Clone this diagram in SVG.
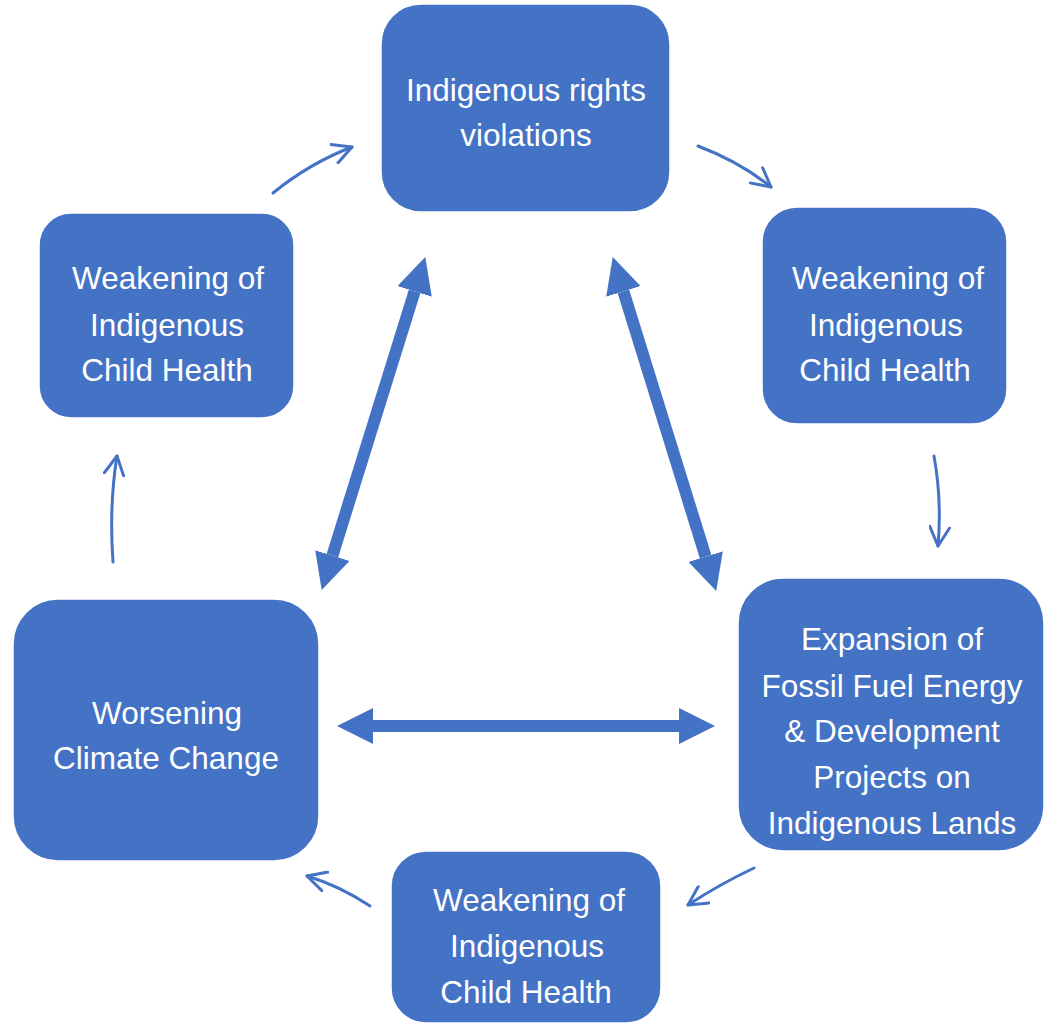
<svg xmlns="http://www.w3.org/2000/svg" width="1047" height="1025" viewBox="0 0 1047 1025">
<style>
.box{fill:#4472C4;stroke:#ffffff;stroke-width:1.5}
.t{fill:#ffffff;font-family:"Liberation Sans",Arial,sans-serif;font-size:31.5px;text-anchor:middle}
.thin{fill:none;stroke:#4472C4;stroke-width:3;stroke-linecap:round;marker-end:url(#open)}
.thick{fill:none;stroke:#4472C4;stroke-width:12;marker-start:url(#solid);marker-end:url(#solid)}
</style>
<defs>
<marker id="open" markerUnits="userSpaceOnUse" viewBox="0 0 22 22" refX="20" refY="11" markerWidth="22" markerHeight="22" orient="auto">
<path d="M1,1 L20,11 L1,21" fill="none" stroke="#4472C4" stroke-width="3" stroke-linecap="round" stroke-linejoin="round"/>
</marker>
<marker id="solid" markerUnits="userSpaceOnUse" viewBox="0 0 36 36" refX="0" refY="18" markerWidth="36" markerHeight="36" orient="auto-start-reverse">
<path d="M0,0 L36,18 L0,36 z" fill="#4472C4"/>
</marker>
</defs>
<rect width="1047" height="1025" fill="#ffffff"/>
<g id="connectors">
<path class="thin" d="M273,193 Q310,163 352,147"/>
<path class="thin" d="M698,146 Q740,162 771,187"/>
<path class="thin" d="M934,456 Q942,500 938,546"/>
<path class="thin" d="M754,868 Q720,884 688,905"/>
<path class="thin" d="M370,906 Q340,886 307,876"/>
<path class="thin" d="M113,562 Q109,505 117,456"/>
<line class="thick" x1="414.6" y1="291.4" x2="332.4" y2="555.6"/>
<line class="thick" x1="623.4" y1="291.4" x2="705.6" y2="556.6"/>
<line class="thick" x1="373" y1="726" x2="679" y2="726"/>
</g>
<g id="node-rights">
<rect class="box" x="381" y="4" width="289" height="208" rx="40"/>
<text class="t" x="526" y="101">Indigenous rights</text>
<text class="t" x="526" y="146">violations</text>
</g>
<g id="node-health-left">
<rect class="box" x="39" y="213" width="255" height="205" rx="32"/>
<text class="t" x="168" y="289">Weakening of</text>
<text class="t" x="167" y="336">Indigenous</text>
<text class="t" x="167" y="381">Child Health</text>
</g>
<g id="node-health-right">
<rect class="box" x="762" y="207" width="245" height="217" rx="35"/>
<text class="t" x="888" y="289">Weakening of</text>
<text class="t" x="886" y="336">Indigenous</text>
<text class="t" x="885" y="381">Child Health</text>
</g>
<g id="node-expansion">
<rect class="box" x="738" y="578" width="306" height="273" rx="45"/>
<text class="t" x="892" y="650">Expansion of</text>
<text class="t" x="892" y="697">Fossil Fuel Energy</text>
<text class="t" x="892" y="742">&amp; Development</text>
<text class="t" x="892" y="788">Projects on</text>
<text class="t" x="892" y="834">Indigenous Lands</text>
</g>
<g id="node-health-bottom">
<rect class="box" x="391" y="851" width="270" height="172" rx="35"/>
<text class="t" x="529" y="911">Weakening of</text>
<text class="t" x="527" y="957">Indigenous</text>
<text class="t" x="526" y="1003">Child Health</text>
</g>
<g id="node-climate">
<rect class="box" x="13" y="599" width="306" height="262" rx="45"/>
<text class="t" x="167" y="724">Worsening</text>
<text class="t" x="166" y="769">Climate Change</text>
</g>
</svg>
